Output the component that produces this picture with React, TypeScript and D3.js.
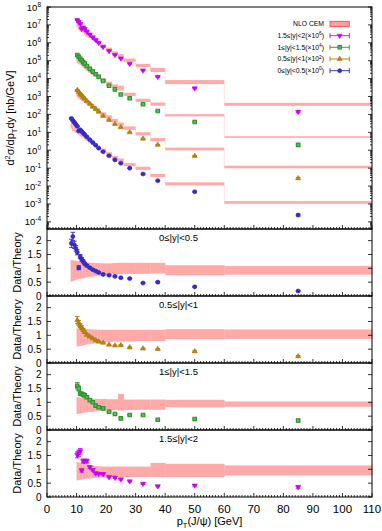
import * as d3 from "d3";

// pT bins (GeV): central rapidity starts at 8 GeV, the other slices at 10 GeV
const edgesCentral = [8, 8.5, 9, 9.5, 10, 10.5, 11, 11.5, 12, 12.5, 13, 14, 15, 16, 17, 18, 20, 22, 24, 26, 30, 35, 40, 60, 110];
const ptCentral = [8.25, 8.75, 9.25, 9.75, 10.25, 10.75, 11.25, 11.75, 12.25, 12.75, 13.5, 14.5, 15.5, 16.5, 17.5, 19, 21, 23, 25, 28, 32.5, 37.5, 50, 85];
const edgesFwd = [10, 10.5, 11, 11.5, 12, 12.5, 13, 14, 15, 16, 17, 18, 20, 22, 24, 26, 30, 35, 40, 60, 110];
const ptFwd = [10.25, 10.75, 11.25, 11.75, 12.25, 12.75, 13.5, 14.5, 15.5, 16.5, 17.5, 19, 21, 23, 25, 28, 32.5, 37.5, 50, 85];

// 0<=|y|<0.5  (nb/GeV, unscaled)
const dataY0 = [60, 46, 36, 28, 22, 12, 14, 11.3, 9.2, 7.5, 5.6, 3.9, 2.7, 1.9, 1.3, 0.82, 0.49, 0.29, 0.19, 0.10, 0.047, 0.020, 0.0048, 0.00024];
const ratioY0 = [1.9, 2.15, 1.85, 1.72, 1.58, 1.02, 1.42, 1.32, 1.25, 1.17, 1.1, 1.02, 0.95, 0.9, 0.85, 0.78, 0.75, 0.71, 0.66, 0.63, 0.47, 0.5, 0.33, 0.18];
const hiY0 = [1.3, 1.29, 1.28, 1.27, 1.26, 1.25, 1.24, 1.23, 1.22, 1.22, 1.21, 1.2, 1.2, 1.19, 1.19, 1.18, 1.18, 1.19, 1.2, 1.2, 1.2, 1.2, 1.11, 1.08];
const loY0 = [0.52, 0.54, 0.56, 0.58, 0.6, 0.61, 0.62, 0.63, 0.64, 0.65, 0.67, 0.69, 0.7, 0.72, 0.73, 0.75, 0.77, 0.78, 0.79, 0.8, 0.8, 0.81, 0.75, 0.77];
const errY0 = [0.08, 0.07, 0.07, 0.06, 0.06, 0.07, 0.05, 0.05, 0.04, 0.04, 0.04, 0.03, 0.03, 0.03, 0.03, 0.03, 0.03, 0.03, 0.03, 0.03, 0.04, 0.05, 0.06, 0.12];

// 0.5<=|y|<1
const dataY1 = [23, 18, 14, 11.5, 9.3, 7.6, 5.6, 3.9, 2.7, 1.95, 1.4, 0.81, 0.49, 0.29, 0.19, 0.10, 0.044, 0.020, 0.0048, 0.00027];
const ratioY1 = [1.55, 1.45, 1.35, 1.28, 1.2, 1.12, 1.02, 0.95, 0.88, 0.82, 0.77, 0.73, 0.66, 0.63, 0.64, 0.56, 0.52, 0.5, 0.42, 0.24];
const hiY1 = [1.25, 1.25, 1.24, 1.24, 1.23, 1.23, 1.22, 1.22, 1.21, 1.21, 1.2, 1.2, 1.2, 1.2, 1.2, 1.2, 1.2, 1.2, 1.22, 1.21];
const loY1 = [0.6, 0.61, 0.62, 0.63, 0.64, 0.65, 0.67, 0.69, 0.7, 0.72, 0.73, 0.74, 0.76, 0.77, 0.78, 0.78, 0.79, 0.79, 0.86, 0.87];
const errY1 = [0.08, 0.06, 0.05, 0.05, 0.04, 0.04, 0.04, 0.03, 0.03, 0.03, 0.03, 0.03, 0.03, 0.03, 0.03, 0.03, 0.04, 0.05, 0.06, 0.12];

// 1<=|y|<1.5
const dataY2 = [21, 16.5, 13, 10.5, 8.5, 6.9, 5.1, 3.5, 2.45, 1.75, 1.26, 0.74, 0.40, 0.25, 0.13, 0.08, 0.037, 0.0155, 0.0038, 0.00020];
const ratioY2 = [1.6, 1.5, 1.32, 1.3, 1.28, 1.25, 1.18, 1.08, 1.0, 0.88, 0.82, 0.78, 0.66, 0.58, 0.42, 0.54, 0.54, 0.37, 0.4, 0.34];
const hiY2 = [1.18, 1.18, 1.17, 1.17, 1.16, 1.16, 1.15, 1.14, 1.13, 1.13, 1.12, 1.12, 1.11, 1.11, 1.3, 1.1, 1.1, 1.1, 1.09, 1.03];
const loY2 = [0.58, 0.59, 0.6, 0.61, 0.62, 0.63, 0.64, 0.65, 0.66, 0.68, 0.69, 0.7, 0.71, 0.72, 0.7, 0.72, 0.73, 0.73, 0.82, 0.84];
const errY2 = [0.07, 0.06, 0.05, 0.05, 0.04, 0.04, 0.04, 0.04, 0.03, 0.03, 0.03, 0.03, 0.03, 0.03, 0.04, 0.04, 0.05, 0.05, 0.07, 0.12];

// 1.5<=|y|<2
const dataY3 = [18.7, 14.5, 11.3, 6.0, 7.3, 5.9, 4.3, 2.95, 2.05, 1.45, 1.0, 0.6, 0.35, 0.21, 0.135, 0.068, 0.029, 0.0127, 0.0029, 0.00014];
const ratioY3 = [1.52, 1.58, 1.65, 0.96, 1.3, 1.3, 1.3, 1.08, 0.98, 0.86, 0.84, 0.83, 0.72, 0.7, 0.64, 0.57, 0.48, 0.39, 0.42, 0.36];
const hiY3 = [1.26, 1.25, 1.24, 1.23, 1.22, 1.2, 1.18, 1.16, 1.14, 1.12, 1.11, 1.1, 1.1, 1.1, 1.1, 1.1, 1.1, 1.23, 1.2, 1.14];
const loY3 = [0.6, 0.61, 0.62, 0.63, 0.64, 0.65, 0.66, 0.67, 0.68, 0.69, 0.7, 0.71, 0.72, 0.72, 0.72, 0.72, 0.72, 0.72, 0.72, 0.78];
const errY3 = [0.07, 0.07, 0.06, 0.06, 0.05, 0.05, 0.05, 0.04, 0.04, 0.04, 0.04, 0.04, 0.04, 0.04, 0.04, 0.04, 0.05, 0.06, 0.07, 0.12];

const xTicks = [0, 10, 20, 30, 40, 50, 60, 70, 80, 90, 100, 110];
const ratioTicks = [0, 0.5, 1, 1.5, 2];
const decades = [-4, -3, -2, -1, 0, 1, 2, 3, 4, 5, 6, 7, 8];

const BAND = "#ffa9a9";
const FONT = "'Liberation Sans', Arial, sans-serif";

const series = [
  { label: "0≤|y|<0.5", power: 0, color: "#3324bd", fill: "#3a2cc8", sym: d3.symbolCircle, size: 13, flip: false, pt: ptCentral, edges: edgesCentral, data: dataY0, ratio: ratioY0, hi: hiY0, lo: loY0, err: errY0 },
  { label: "0.5≤|y|<1", power: 2, color: "#a97a08", fill: "#b8860b", sym: d3.symbolTriangle, size: 11, flip: false, pt: ptFwd, edges: edgesFwd, data: dataY1, ratio: ratioY1, hi: hiY1, lo: loY1, err: errY1 },
  { label: "1≤|y|<1.5", power: 4, color: "#2c952c", fill: "#62b862", sym: d3.symbolSquare, size: 12, flip: false, pt: ptFwd, edges: edgesFwd, data: dataY2, ratio: ratioY2, hi: hiY2, lo: loY2, err: errY2 },
  { label: "1.5≤|y|<2", power: 6, color: "#c400f0", fill: "#cc00ff", sym: d3.symbolTriangle, size: 11, flip: true, pt: ptFwd, edges: edgesFwd, data: dataY3, ratio: ratioY3, hi: hiY3, lo: loY3, err: errY3 },
];

const X0 = 47, X1 = 372;
const TOP0 = 7, TOP1 = 229;
const panelTops = [229, 296, 363, 430];
const PH = 67;

const x = d3.scaleLinear([0, 110], [X0, X1]);
const yTop = d3.scaleLog([4e-5, 1e8], [TOP1, TOP0]);

const Marker = ({ s, cx, cy }) => (
  <path
    d={d3.symbol(s.sym, s.size)()}
    transform={`translate(${cx},${cy})${s.flip ? " rotate(180)" : ""}`}
    fill={s.fill}
    stroke={s.color}
    strokeWidth={s.sym === d3.symbolSquare ? 1.1 : 0.6}
  />
);

const ErrBar = ({ cx, y1, y2, color }) => (
  <g stroke={color} strokeWidth={0.9}>
    <line x1={cx} x2={cx} y1={y1} y2={y2} />
    <line x1={cx - 2.3} x2={cx + 2.3} y1={y1} y2={y1} />
    <line x1={cx - 2.3} x2={cx + 2.3} y1={y2} y2={y2} />
  </g>
);

const XTicks = ({ y0 }) => {
  const minors = d3.range(1, 110).filter((v) => v % 10 !== 0);
  return (
    <g stroke="#000" strokeWidth={0.8}>
      {minors.map((v) => <line key={"m" + v} x1={x(v)} x2={x(v)} y1={y0} y2={y0 - 2} />)}
      {xTicks.map((v) => <line key={v} x1={x(v)} x2={x(v)} y1={y0} y2={y0 - 4} />)}
    </g>
  );
};

export default function App() {
  const topPanel = (
    <g>
      {/* theory bands */}
      {series.map((s) => {
        const k = Math.pow(10, s.power);
        return (
          <g key={"b" + s.label}>
            {s.data.map((d, i) => {
              const th = (d / s.ratio[i]) * k;
              const yh = yTop(th * s.hi[i]);
              const yl = yTop(th * s.lo[i]);
              return <rect key={i} x={x(s.edges[i])} width={x(s.edges[i + 1]) - x(s.edges[i])} y={yh} height={Math.max(yl - yh, 1)} fill={BAND} />;
            })}
            {s.data.slice(1).map((d, j) => {
              const i = j + 1;
              const a = yTop((s.data[i - 1] / s.ratio[i - 1]) * k);
              const b = yTop((d / s.ratio[i]) * k);
              return <line key={"v" + i} x1={x(s.edges[i])} x2={x(s.edges[i])} y1={a} y2={b} stroke="#ffc4c4" strokeWidth={0.5} />;
            })}
          </g>
        );
      })}
      {/* data */}
      {series.map((s) => {
        const k = Math.pow(10, s.power);
        return (
          <g key={"d" + s.label}>
            {s.data.map((d, i) => (
              <g key={i}>
                <ErrBar cx={x(s.pt[i])} y1={yTop(d * k * (1 + s.err[i]))} y2={yTop(d * k * (1 - s.err[i]))} color={s.color} />
                <Marker s={s} cx={x(s.pt[i])} cy={yTop(d * k)} />
              </g>
            ))}
          </g>
        );
      })}
      {/* y ticks */}
      <g stroke="#000" strokeWidth={0.8}>
        {decades.map((e) => (
          <g key={e}>
            <line x1={X0} x2={X0 + 4} y1={yTop(Math.pow(10, e))} y2={yTop(Math.pow(10, e))} />
            <line x1={X1} x2={X1 - 4} y1={yTop(Math.pow(10, e))} y2={yTop(Math.pow(10, e))} />
          </g>
        ))}
        {decades.concat([-5]).map((e) =>
          d3.range(2, 10).map((m) => {
            const v = m * Math.pow(10, e);
            if (v < 4e-5 || v > 1e8) return null;
            const yy = yTop(v);
            return (
              <g key={e + "_" + m}>
                <line x1={X0} x2={X0 + 2} y1={yy} y2={yy} />
                <line x1={X1} x2={X1 - 2} y1={yy} y2={yy} />
              </g>
            );
          })
        )}
      </g>
      <XTicks y0={TOP1} />
      <g fontFamily={FONT} fontSize={9.5} textAnchor="end">
        {decades.map((e) => (
          <text key={e} x={41} y={yTop(Math.pow(10, e)) + 3.5}>
            10<tspan fontSize={6.5} dy={-4}>{e}</tspan>
          </text>
        ))}
      </g>
      <rect x={X0} y={TOP0} width={X1 - X0} height={TOP1 - TOP0} fill="none" stroke="#000" strokeWidth={1} />
      <text transform={`translate(14,118) rotate(-90)`} textAnchor="middle" fontFamily={FONT} fontSize={11}>
        d<tspan fontSize={7.5} dy={-4}>2</tspan><tspan dy={4}>σ/dp</tspan><tspan fontSize={7.5} dy={2.5}>T</tspan><tspan dy={-2.5}>dy [nb/GeV]</tspan>
      </text>
      {/* legend */}
      <g fontFamily={FONT} fontSize={6.8}>
        <text x={324} y={26.3} textAnchor="end">NLO CEM</text>
        <rect x={330} y={21.3} width={19.3} height={5.2} fill="#ffa0a0" stroke="#ff3b3b" strokeWidth={0.8} />
        {[3, 2, 1, 0].map((si, r) => {
          const s = series[si];
          const yy = 24 + (r + 1) * 11.67;
          return (
            <g key={si}>
              <text x={324} y={yy + 2.3} textAnchor="end">
                {s.label}(×10<tspan fontSize={4.8} dy={-2.8}>{s.power}</tspan><tspan dy={2.8}>)</tspan>
              </text>
              <g stroke={s.color} strokeWidth={0.9}>
                <line x1={330} x2={349.3} y1={yy} y2={yy} />
                <line x1={330} x2={330} y1={yy - 2.5} y2={yy + 2.5} />
                <line x1={349.3} x2={349.3} y1={yy - 2.5} y2={yy + 2.5} />
              </g>
              <Marker s={s} cx={339.7} cy={yy} />
            </g>
          );
        })}
      </g>
    </g>
  );

  const ratioPanels = series.map((s, p) => {
    const top = panelTops[p];
    const bottom = top + PH;
    const yR = d3.scaleLinear([0, 2.42], [bottom, top]);
    return (
      <g key={"r" + p}>
        {s.data.map((d, i) => (
          <rect key={i} x={x(s.edges[i])} width={x(s.edges[i + 1]) - x(s.edges[i]) + 0.3} y={yR(s.hi[i])} height={yR(s.lo[i]) - yR(s.hi[i])} fill={BAND} />
        ))}
        {s.ratio.map((r, i) => (
          <g key={"p" + i}>
            <ErrBar cx={x(s.pt[i])} y1={yR(r * (1 + s.err[i]))} y2={yR(r * (1 - s.err[i]))} color={s.color} />
            <Marker s={s} cx={x(s.pt[i])} cy={yR(r)} />
          </g>
        ))}
        <g stroke="#000" strokeWidth={0.8}>
          {ratioTicks.map((v) => (
            <g key={v}>
              <line x1={X0} x2={X0 + 4} y1={yR(v)} y2={yR(v)} />
              <line x1={X1} x2={X1 - 4} y1={yR(v)} y2={yR(v)} />
            </g>
          ))}
        </g>
        <XTicks y0={bottom} />
        <g fontFamily={FONT} fontSize={10} textAnchor="end">
          {ratioTicks.map((v) => (
            <text key={v} x={41.5} y={yR(v) + 3.6}>{v}</text>
          ))}
        </g>
        <text x={198} y={top + 12} textAnchor="end" fontFamily={FONT} fontSize={9.5}>{s.label}</text>
        <text transform={`translate(20.5,${top + PH / 2}) rotate(-90)`} textAnchor="middle" fontFamily={FONT} fontSize={11}>Data/Theory</text>
        <rect x={X0} y={top} width={X1 - X0} height={PH} fill="none" stroke="#000" strokeWidth={1} />
      </g>
    );
  });

  const lastBottom = panelTops[3] + PH;

  return (
    <svg width={382} height={531} style={{ position: "absolute", left: 0, top: 0, background: "#fff" }}>
      {topPanel}
      {ratioPanels}
      <g fontFamily={FONT} fontSize={11.5} textAnchor="middle">
        {xTicks.map((v) => (
          <text key={v} x={x(v)} y={lastBottom + 16}>{v}</text>
        ))}
      </g>
      <text x={(X0 + X1) / 2} y={525} textAnchor="middle" fontFamily={FONT} fontSize={11}>
        p<tspan fontSize={7.5} dy={2.5}>T</tspan><tspan dy={-2.5}>(J/ψ) [GeV]</tspan>
      </text>
    </svg>
  );
}
